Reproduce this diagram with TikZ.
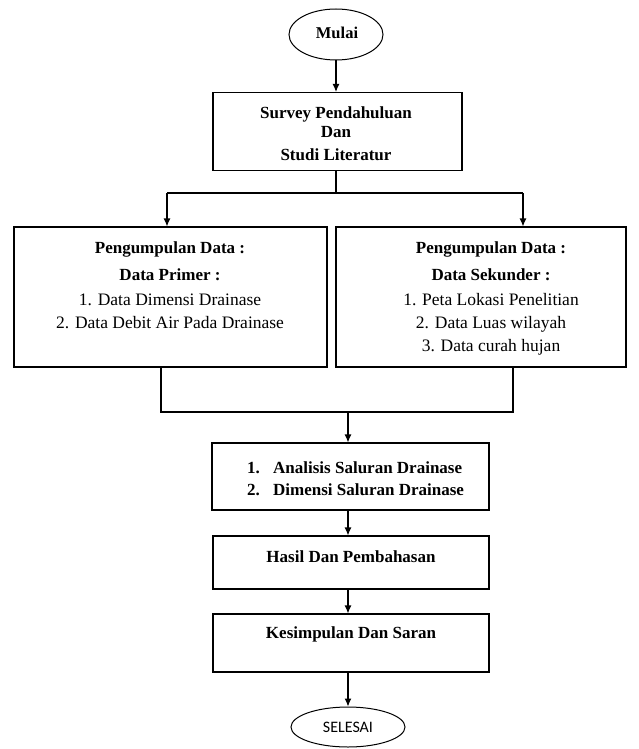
\documentclass[tikz,border=0pt]{standalone}
\usepackage{fontspec}
\setmainfont{Liberation Serif}
\newfontfamily\carlitofont{Carlito}
\usetikzlibrary{arrows.meta,shapes.geometric}
\begin{document}
\begin{tikzpicture}[x=1pt,y=-1pt,
  box/.style={draw,line width=1.1pt,rectangle,inner sep=0pt},
  term/.style={draw,line width=1pt,ellipse,inner sep=0pt},
  txt/.style={anchor=base,inner sep=0pt,font=\fontsize{17.5}{20}\selectfont},
  txtb/.style={anchor=base,inner sep=0pt,font=\fontsize{17}{20}\selectfont\bfseries},
  txtl/.style={anchor=base west,inner sep=0pt,font=\fontsize{17}{20}\selectfont\bfseries},
  arr/.style={line width=1.1pt,-{Latex[length=8pt,width=7pt]}},
  ln/.style={line width=1.1pt}]
\useasboundingbox (0,0) rectangle (638,749);

% terminals
\node[term,minimum width=94pt,minimum height=51pt] (mulai) at (336,34.5) {};
\node[txtb,font=\fontsize{16.5}{20}\selectfont\bfseries] (tmulai) at (337,39) {Mulai};
\node[term,minimum width=114pt,minimum height=40pt] (selesai) at (348,727) {};
\node[txt,font=\fontsize{16}{18}\selectfont\carlitofont] (tselesai) at (348,732) {SELESAI};

% boxes
\node[box,minimum width=249pt,minimum height=78pt] (b1) at (337.5,131.5) {};
\node[box,minimum width=313pt,minimum height=140pt] (bl) at (170.5,297) {};
\node[box,minimum width=290pt,minimum height=140pt] (br) at (481,297) {};
\node[box,minimum width=277pt,minimum height=67pt] (ba) at (350.5,476.5) {};
\node[box,minimum width=276pt,minimum height=53pt] (bh) at (351,562.5) {};
\node[box,minimum width=276pt,minimum height=58pt] (bk) at (351,643) {};

% texts
\node[txtb] (t1a) at (336,118) {Survey Pendahuluan};
\node[txtb] (t1b) at (336,138) {Dan};
\node[txtb] (t1c) at (336,160) {Studi Literatur};

\node[txtb] (tla) at (170,253) {Pengumpulan Data :};
\node[txtb] (tlb) at (170,280) {Data Primer :};
\node[txt] (tlc) at (170,305) {1. Data Dimensi Drainase};
\node[txt] (tld) at (170,328) {2. Data Debit Air Pada Drainase};

\node[txtb] (tra) at (491,253) {Pengumpulan Data :};
\node[txtb] (trb) at (491,280) {Data Sekunder :};
\node[txt] (trc) at (491,305) {1. Peta Lokasi Penelitian};
\node[txt] (trd) at (491,328) {2. Data Luas wilayah};
\node[txt] (tre) at (491,351) {3. Data curah hujan};

\node[txtl] (ta1) at (247,473) {1.};
\node[txtl] (ta2) at (273,473) {Analisis Saluran Drainase};
\node[txtl] (ta3) at (247,495) {2.};
\node[txtl] (ta4) at (273,495) {Dimensi Saluran Drainase};

\node[txtb] (th) at (351,562) {Hasil Dan Pembahasan};
\node[txtb] (tk) at (351,638) {Kesimpulan Dan Saran};

% connectors
\draw[arr] (mulai.south) -- (mulai.south |- b1.north);
\coordinate (split) at (336,193);
\coordinate (sl) at (167,193);
\coordinate (sr) at (523,193);
\draw[ln] (336,170.5) -- (split);
\draw[ln] (sl) -- (sr);
\draw[arr] (sl) -- (sl |- bl.north);
\draw[arr] (sr) -- (sr |- br.north);

\coordinate (ml) at (161,412);
\coordinate (mr) at (513,412);
\coordinate (mm) at (348,412);
\draw[ln] (ml |- bl.south) -- (ml) -- (mr) -- (mr |- br.south);
\draw[arr] (mm) -- (mm |- ba.north);
\draw[arr] (mm |- ba.south) -- (mm |- bh.north);
\draw[arr] (mm |- bh.south) -- (mm |- bk.north);
\draw[arr] (selesai.north |- bk.south) -- (selesai.north);
\end{tikzpicture}
\end{document}
